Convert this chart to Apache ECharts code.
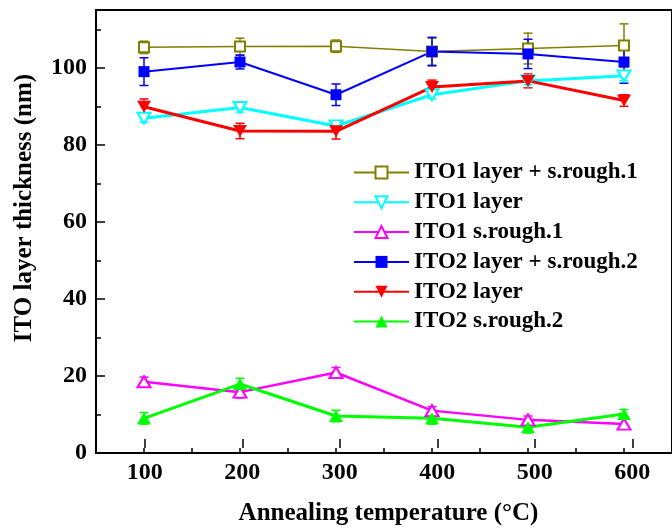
<!DOCTYPE html>
<html>
<head>
<meta charset="utf-8">
<script src="https://cdn.jsdelivr.net/npm/echarts@6/dist/echarts.min.js"></script>
<style>
  html, body { margin: 0; padding: 0; background: #fff; }
  #chart { width: 672px; height: 531px; }
</style>
</head>
<body>
<div id="chart"></div>
<script>
// Annealing temperatures (°C)
const temps = [100, 200, 300, 400, 500, 600];

// Thickness values (nm) and their error half-widths
const ito1Total    = [105.3, 105.5, 105.6, 104.2, 105.0, 105.8];
const ito1TotalErr = [1.6, 2.2, 1.6, 3.5, 4.0, 5.6];
const ito1Layer    = [86.9, 89.7, 84.9, 93.0, 96.6, 97.9];
const ito1LayerErr = [1.0, 1.2, 1.0, 1.0, 1.0, 1.2];
const ito1Rough    = [18.5, 15.8, 20.9, 11.0, 8.6, 7.5];
const ito1RoughErr = [1.2, 1.5, 1.3, 1.0, 1.0, 1.3];
const ito2Total    = [99.0, 101.5, 93.0, 104.2, 103.6, 101.5];
const ito2TotalErr = [3.6, 1.8, 2.8, 3.7, 3.8, 5.5];
const ito2Layer    = [89.9, 83.6, 83.5, 95.0, 96.6, 91.5];
const ito2LayerErr = [2.0, 2.0, 2.0, 1.8, 1.8, 1.5];
const ito2Rough    = [9.0, 17.9, 9.6, 9.0, 6.7, 10.1];
const ito2RoughErr = [1.5, 1.5, 1.5, 1.5, 1.5, 1.2];

// Axis tick values
const xMajorTicks = [100, 200, 300, 400, 500, 600];
const yMajorTicks = [0, 20, 40, 60, 80, 100];

const seriesNames = [
  'ITO1 layer + s.rough.1',
  'ITO1 layer',
  'ITO1 s.rough.1',
  'ITO2 layer + s.rough.2',
  'ITO2 layer',
  'ITO2 s.rough.2'
];

const FONT = '"Liberation Serif", "Times New Roman", serif';
const tickFont  = { fontFamily: FONT, fontWeight: 'bold', fontSize: 24, color: '#000' };
const titleFont = { fontFamily: FONT, fontWeight: 'bold', fontSize: 25, color: '#000' };

function pairs(vals) { return temps.map((t, i) => [t, vals[i]]); }
function triples(vals, errs) { return temps.map((t, i) => [t, vals[i], errs[i]]); }

// Vertical error bar with short caps
function errorBars(vals, errs, color, width) {
  return {
    type: 'custom',
    xAxisIndex: 0, yAxisIndex: 0,
    z: 3,
    silent: true,
    data: triples(vals, errs),
    renderItem: function (params, api) {
      const x = api.value(0), v = api.value(1), e = api.value(2);
      const hi = api.coord([x, v + e]);
      const lo = api.coord([x, v - e]);
      const cap = 4.5;
      const style = { stroke: color, lineWidth: width, fill: null };
      return {
        type: 'group',
        children: [
          { type: 'line', shape: { x1: hi[0], y1: hi[1], x2: lo[0], y2: lo[1] }, style: style },
          { type: 'line', shape: { x1: hi[0] - cap, y1: hi[1], x2: hi[0] + cap, y2: hi[1] }, style: style },
          { type: 'line', shape: { x1: lo[0] - cap, y1: lo[1], x2: lo[0] + cap, y2: lo[1] }, style: style }
        ]
      };
    }
  };
}

function lineSeries(name, vals, color, lw, symbol, size, rotate, filled) {
  return {
    name: name,
    type: 'line',
    xAxisIndex: 0, yAxisIndex: 0,
    data: pairs(vals),
    symbol: symbol,
    symbolSize: size,
    symbolRotate: rotate,
    showAllSymbol: true,
    z: 4,
    lineStyle: { color: color, width: lw },
    itemStyle: filled
      ? { color: color, borderColor: color, borderWidth: 0 }
      : { color: color, borderColor: color, borderWidth: 1.5 }
  };
}

const chart = echarts.init(document.getElementById('chart'), null, { renderer: 'canvas' });

chart.setOption({
  animation: false,
  backgroundColor: '#fff',
  grid: [
    // plotting frame: x 50..650, y 0..115
    { left: 96, right: -9, top: 10, bottom: 78, show: true, borderColor: '#000', borderWidth: 2, backgroundColor: 'transparent' },
    // labelled x ticks 100..600
    { left: 144.75, right: 39.75, top: 10, bottom: 78 },
    // labelled y ticks 0..100
    { left: 96, right: -9, top: 67.8, bottom: 78 },
    // holder for the y-axis title, placed a little above the plot middle
    { left: 96, right: -9, top: 10, bottom: 125 }
  ],
  xAxis: [
    {
      gridIndex: 0, type: 'value', min: 50, max: 650, interval: 50,
      axisLine: { show: true, lineStyle: { color: '#000', width: 2 } },
      axisTick: { show: true, inside: true, length: 5, lineStyle: { color: '#000', width: 1.5 } },
      axisLabel: { show: false },
      splitLine: { show: false }
    },
    {
      gridIndex: 1, type: 'value', min: xMajorTicks[0], max: xMajorTicks[xMajorTicks.length - 1], interval: 100,
      name: 'Annealing temperature (°C)',
      nameLocation: 'middle', nameGap: 53,
      nameTextStyle: titleFont,
      axisLine: { show: false },
      axisTick: { show: true, inside: true, length: 9, lineStyle: { color: '#000', width: 1.5 } },
      axisLabel: Object.assign({ margin: 13 }, tickFont),
      splitLine: { show: false }
    },
    { gridIndex: 2, type: 'value', min: 50, max: 650, show: false },
    { gridIndex: 3, type: 'value', min: 50, max: 650, show: false }
  ],
  yAxis: [
    {
      gridIndex: 0, type: 'value', min: 0, max: 115, interval: 10,
      axisLine: { show: true, lineStyle: { color: '#000', width: 2 } },
      axisTick: { show: true, inside: true, length: 5, lineStyle: { color: '#000', width: 1.5 } },
      axisLabel: { show: false },
      splitLine: { show: false }
    },
    { gridIndex: 1, type: 'value', min: 0, max: 115, show: false },
    {
      gridIndex: 2, type: 'value', min: yMajorTicks[0], max: yMajorTicks[yMajorTicks.length - 1], interval: 20,
      axisLine: { show: false },
      axisTick: { show: true, inside: true, length: 9, lineStyle: { color: '#000', width: 1.5 } },
      axisLabel: Object.assign({ margin: 9 }, tickFont),
      splitLine: { show: false }
    },
    {
      gridIndex: 3, type: 'value', min: 0, max: 100,
      name: 'ITO layer thickness (nm)',
      nameLocation: 'middle', nameGap: 59,
      nameTextStyle: titleFont,
      axisLine: { show: false },
      axisTick: { show: false },
      axisLabel: { show: false },
      splitLine: { show: false }
    }
  ],
  legend: {
    data: seriesNames,
    orient: 'vertical',
    left: 348, top: 155.5,
    itemWidth: 55, itemHeight: 15, itemGap: 5.8,
    symbolRotate: 'inherit',
    lineStyle: { width: 2 },
    textStyle: { fontFamily: FONT, fontWeight: 'bold', fontSize: 23, color: '#000', lineHeight: 24 }
  },
  series: [
    errorBars(ito1Total, ito1TotalErr, '#808000', 1.5),
    errorBars(ito1Layer, ito1LayerErr, '#00ffff', 1.5),
    errorBars(ito1Rough, ito1RoughErr, '#ff00ff', 1.5),
    errorBars(ito2Total, ito2TotalErr, '#0000ff', 1.5),
    errorBars(ito2Layer, ito2LayerErr, '#ff0000', 1.5),
    errorBars(ito2Rough, ito2RoughErr, '#00ff00', 1.5),
    lineSeries(seriesNames[0], ito1Total, '#808000', 1.5, 'emptyRect', 10, 0, false),
    lineSeries(seriesNames[1], ito1Layer, '#00ffff', 3, 'emptyTriangle', [13, 11], 180, false),
    lineSeries(seriesNames[2], ito1Rough, '#ff00ff', 2.5, 'emptyTriangle', [13, 11], 0, false),
    lineSeries(seriesNames[3], ito2Total, '#0000ff', 2, 'rect', 11, 0, true),
    lineSeries(seriesNames[4], ito2Layer, '#ff0000', 3, 'triangle', [14, 12], 180, true),
    lineSeries(seriesNames[5], ito2Rough, '#00ff00', 3, 'triangle', [14, 12], 0, true)
  ]
});
</script>
</body>
</html>
